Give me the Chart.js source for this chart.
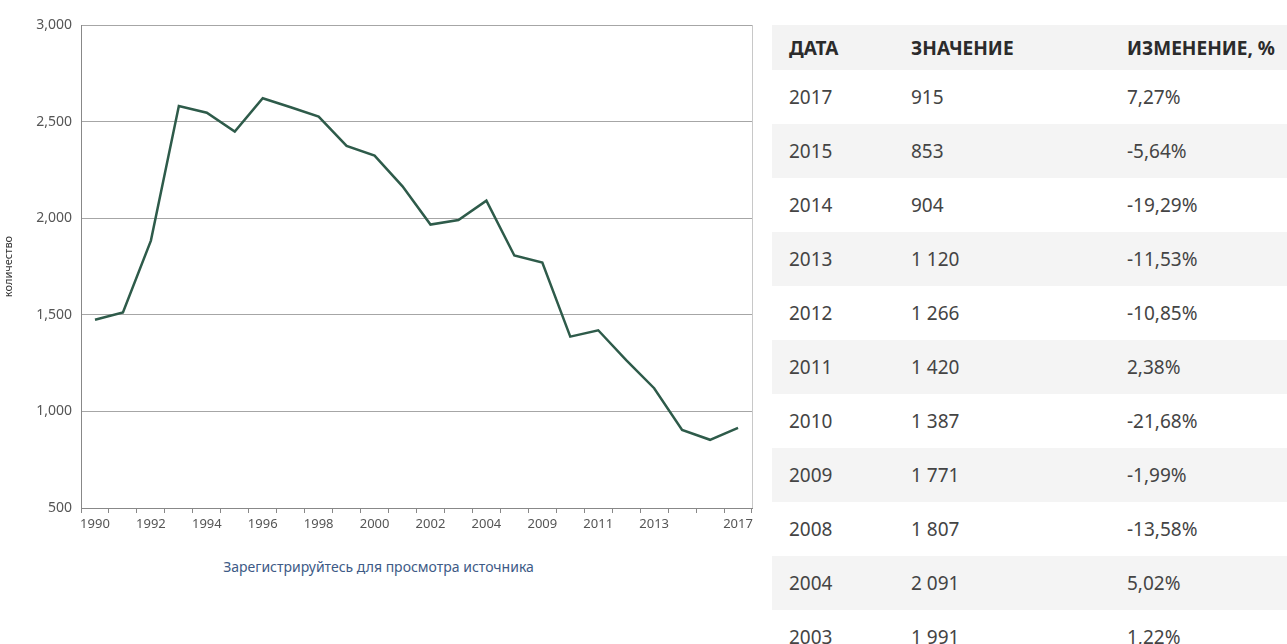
<!DOCTYPE html>
<html>
<head>
<meta charset="utf-8">
<script src="https://cdn.jsdelivr.net/npm/chart.js@4"></script>
<style>
    body { margin: 0; background: #fff; width: 1287px; height: 644px; overflow: hidden; position: relative; font-family: "Noto Sans", sans-serif; }
    #chartBox { position: absolute; left: 0; top: 0; width: 760px; height: 530px; }
    #source { position: absolute; left: 0; width: 757px; top: 557px; text-align: center; font-size: 14px; color: #3d5a86; }
    #table { position: absolute; left: 772px; top: 25px; width: 530px; border-collapse: collapse; table-layout: fixed; }
    #table th, #table td { text-align: left; padding: 0; white-space: nowrap; }
    #table th { height: 45px; font-size: 19px; font-weight: bold; color: #2b2b2b; background: #f3f3f3; }
    #table td { height: 54px; font-size: 19px; color: #444; }
    #table tr:nth-child(even) td { background: #f4f4f4; }
    #table .c1 { padding-left: 17px; }
</style>
</head>
<body>
<div id="chartBox"><canvas id="lineChart"></canvas></div>
<div id="source">Зарегистрируйтесь для просмотра источника</div>
<table id="table">
    <colgroup><col style="width:139px"><col style="width:216px"><col></colgroup>
    <thead><tr><th class="c1">ДАТА</th><th>ЗНАЧЕНИЕ</th><th>ИЗМЕНЕНИЕ, %</th></tr></thead>
    <tbody id="tableBody"></tbody>
</table>
<script>
// годы (категории оси X)
const years = ['1990', '1991', '1992', '1993', '1994', '1995', '1996', '1997', '1998', '1999',
    '2000', '2001', '2002', '2003', '2004', '2008', '2009', '2010', '2011', '2012',
    '2013', '2014', '2015', '2017'];
// значения
const values = [1474, 1512, 1884, 2581, 2546, 2448, 2621, 2574, 2526, 2374,
    2324, 2165, 1967, 1991, 2091, 1807, 1771, 1387, 1420, 1266,
    1120, 904, 853, 915];
// деления оси Y
const yTicks = [500, 1000, 1500, 2000, 2500, 3000];

// строки таблицы
const tableYears = ['2017', '2015', '2014', '2013', '2012', '2011', '2010', '2009', '2008', '2004', '2003'];
const tableValues = ['915', '853', '904', '1 120', '1 266', '1 420', '1 387', '1 771', '1 807', '2 091', '1 991'];
const tableChanges = ['7,27%', '-5,64%', '-19,29%', '-11,53%', '-10,85%', '2,38%', '-21,68%', '-1,99%', '-13,58%', '5,02%', '1,22%'];

const body = document.getElementById('tableBody');
tableYears.forEach((y, i) => {
    const tr = document.createElement('tr');
    tr.innerHTML = '<td class="c1">' + y + '</td><td>' + tableValues[i] + '</td><td>' + tableChanges[i] + '</td>';
    body.appendChild(tr);
});

// правая рамка области графика
const rightBorder = {
    id: 'rightBorder',
    afterDraw(chart) {
        const a = chart.chartArea;
        const c = chart.ctx;
        c.save();
        c.strokeStyle = '#c8c8c8';
        c.lineWidth = 1;
        c.beginPath();
        c.moveTo(a.right + 0.5, a.top);
        c.lineTo(a.right + 0.5, a.bottom);
        c.stroke();
        c.restore();
    }
};

const ctx = document.getElementById('lineChart');
new Chart(ctx, {
    type: 'line',
    data: {
        labels: years,
        datasets: [{
            data: values,
            borderColor: '#2e5b4a',
            borderWidth: 2.5,
            pointRadius: 0,
            tension: 0,
            fill: false
        }]
    },
    options: {
        responsive: true,
        maintainAspectRatio: false,
        animation: false,
        layout: { padding: { top: 25, right: 8, left: 0, bottom: 0 } },
        plugins: { legend: { display: false }, tooltip: { enabled: false } },
        scales: {
            x: {
                offset: true,
                grid: { offset: true, drawOnChartArea: false, drawTicks: true, tickLength: 5, color: '#888' },
                border: { color: '#888' },
                afterFit(scale) { scale.height = 22; },
                ticks: {
                    autoSkip: false,
                    maxRotation: 0,
                    padding: 3,
                    color: '#555',
                    font: { family: 'Noto Sans', size: 13 },
                    callback(val, i) {
                        if (i === years.length - 1) return years[i];
                        if (i === years.length - 2) return '';
                        return i % 2 === 0 ? years[i] : '';
                    }
                }
            },
            y: {
                min: yTicks[0],
                max: yTicks[yTicks.length - 1],
                afterBuildTicks(scale) { scale.ticks = yTicks.map(v => ({ value: v })); },
                afterFit(scale) { scale.width = 81; },
                grid: { color: '#a6a6a6', drawTicks: false },
                border: { color: '#888' },
                ticks: {
                    padding: 9,
                    color: '#555',
                    font: { family: 'Noto Sans', size: 14 },
                    callback: v => v.toLocaleString('en-US')
                },
                title: {
                    display: true,
                    text: 'количество',
                    color: '#333',
                    font: { family: 'Noto Sans', size: 11 },
                    padding: { top: 2, bottom: 0 }
                }
            }
        }
    },
    plugins: [rightBorder]
});
</script>
</body>
</html>
